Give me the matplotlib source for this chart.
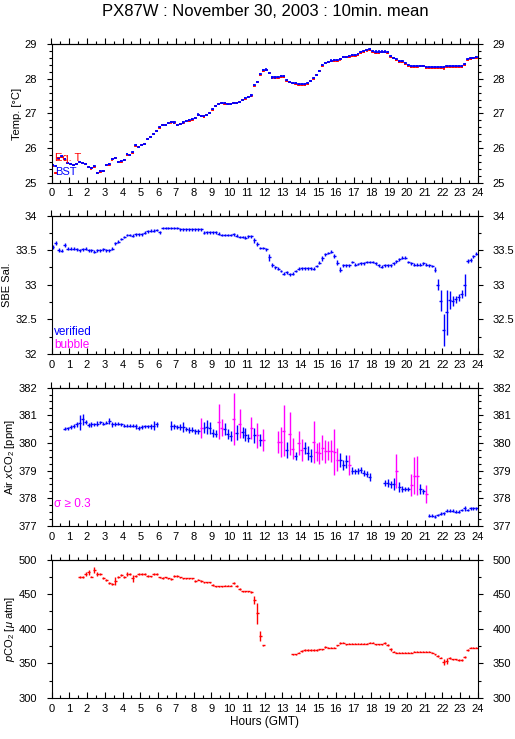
import numpy as np
import matplotlib
matplotlib.use("Agg")
import matplotlib.pyplot as plt
from matplotlib.ticker import MultipleLocator

plt.rcParams["font.family"] = ["Liberation Sans", "DejaVu Sans"]
plt.rcParams["mathtext.fontset"] = "custom"
plt.rcParams["mathtext.rm"] = "Liberation Sans"
plt.rcParams["mathtext.it"] = "Liberation Sans:italic"

nan = np.nan

# ── 10-minute means, one row per hour (6 slots each) ──────────────────────────
T_BST = [
    25.50, 25.48, 25.70, 25.76, 25.68, 25.58,
    25.55, 25.52, 25.55, 25.60, 25.57, 25.55,
    25.46, 25.42, 25.47, 25.29, 25.33, 25.35,
    25.52, 25.53, 25.68, 25.72, 25.60, 25.62,
    25.66, 25.82, 25.80, 25.88, 26.08, 26.04,
    26.10, 26.13, 26.27, 26.33, 26.42, 26.50,
    26.60, 26.67, 26.68, 26.73, 26.75, 26.74,
    26.68, 26.70, 26.74, 26.78, 26.80, 26.83,
    26.88, 26.97, 26.94, 26.92, 26.96, 27.02,
    27.12, 27.22, 27.28, 27.30, 27.29, 27.28,
    27.28, 27.30, 27.31, 27.34, 27.40, 27.44,
    27.48, 27.52, 27.82, 27.92, 28.13, 28.25,
    28.27, 28.18, 28.04, 28.04, 28.05, 28.07,
    28.07, 27.97, 27.92, 27.89, 27.87, 27.84,
    27.84, 27.84, 27.88, 27.95, 28.02, 28.12,
    28.24, 28.40, 28.47, 28.50, 28.53, 28.55,
    28.55, 28.58, 28.64, 28.64, 28.65, 28.69,
    28.69, 28.72, 28.77, 28.80, 28.84, 28.85,
    28.80, 28.79, 28.79, 28.79, 28.79, 28.77,
    28.67, 28.61, 28.57, 28.52, 28.52, 28.46,
    28.40, 28.36, 28.38, 28.38, 28.38, 28.38,
    28.35, 28.35, 28.35, 28.35, 28.34, 28.33,
    28.33, 28.37, 28.37, 28.37, 28.37, 28.37,
    28.37, 28.42, 28.57, 28.60, 28.61, 28.64,
]

T_EQ = [
    25.47, 25.27, 25.68, 25.74, 25.67, 25.56,
    25.54, 25.51, 25.54, 25.59, 25.56, 25.54,
    25.45, 25.41, 25.46, 25.28, 25.32, 25.34,
    25.51, 25.52, 25.67, 25.71, 25.59, 25.61,
    25.65, 25.81, 25.79, 25.87, 26.06, 26.03,
    26.09, 26.12, 26.26, 26.32, 26.41, 26.49,
    26.59, 26.66, 26.67, 26.72, 26.74, 26.73,
    26.67, 26.69, 26.73, 26.77, 26.79, 26.82,
    26.87, 26.96, 26.93, 26.91, 26.95, 27.01,
    27.11, 27.21, 27.27, 27.29, 27.28, 27.27,
    27.27, 27.29, 27.30, 27.33, 27.39, 27.43,
    27.47, 27.51, 27.80, 27.91, 28.12, 28.24,
    28.26, 28.17, 28.02, 28.02, 28.03, 28.05,
    28.05, 27.95, 27.90, 27.87, 27.85, 27.82,
    27.82, 27.82, 27.86, 27.93, 28.00, 28.10,
    28.22, 28.38, 28.45, 28.48, 28.51, 28.53,
    28.53, 28.56, 28.62, 28.62, 28.63, 28.67,
    28.67, 28.70, 28.75, 28.78, 28.82, 28.83,
    28.77, 28.76, 28.76, 28.77, 28.77, 28.75,
    28.64, 28.59, 28.55, 28.50, 28.49, 28.43,
    28.37, 28.33, 28.35, 28.35, 28.36, 28.36,
    28.32, 28.31, 28.31, 28.32, 28.31, 28.31,
    28.30, 28.34, 28.34, 28.34, 28.34, 28.34,
    28.34, 28.40, 28.55, 28.58, 28.59, 28.61,
]
T_ERR = 0.03

SAL = [
    33.55, 33.60, 33.50, 33.49, 33.57, 33.52,
    33.52, 33.52, 33.51, 33.50, 33.51, 33.52,
    33.50, 33.50, 33.48, 33.50, 33.50, 33.51,
    33.50, 33.50, 33.52, 33.60, 33.62, 33.66,
    33.69, 33.72, 33.72, 33.71, 33.73, 33.73,
    33.73, 33.75, 33.77, 33.78, 33.78, 33.79,
    33.76, 33.82, 33.82, 33.82, 33.82, 33.82,
    33.82, 33.80, 33.80, 33.80, 33.80, 33.80,
    33.80, 33.80, 33.80, 33.75, 33.76, 33.76,
    33.76, 33.76, 33.74, 33.72, 33.72, 33.72,
    33.72, 33.73, 33.71, 33.69, 33.69, 33.68,
    33.70, 33.70, 33.64, 33.59, 33.53, 33.53,
    33.51, 33.40, 33.28, 33.25, 33.23, 33.20,
    33.16, 33.18, 33.15, 33.16, 33.20, 33.23,
    33.24, 33.24, 33.24, 33.24, 33.23, 33.27,
    33.32, 33.38, 33.44, 33.46, 33.48, 33.41,
    33.32, 33.22, 33.28, 33.28, 33.28, 33.33,
    33.29, 33.30, 33.31, 33.31, 33.33, 33.33,
    33.33, 33.31, 33.28, 33.26, 33.28, 33.28,
    33.28, 33.31, 33.34, 33.37, 33.39, 33.39,
    33.33, 33.31, 33.29, 33.29, 33.29, 33.31,
    33.29, 33.28, 33.27, 33.22, 33.00, 32.77,
    32.35, 32.60, 32.78, 32.77, 32.79, 32.82,
    32.87, 33.00, 33.34, 33.36, 33.41, 33.45,
]

SAL_ERR = [
    0.03, 0.03, 0.03, 0.02, 0.03, 0.02,
    0.02, 0.02, 0.02, 0.02, 0.02, 0.02,
    0.02, 0.02, 0.02, 0.02, 0.02, 0.02,
    0.02, 0.02, 0.02, 0.02, 0.02, 0.02,
    0.02, 0.02, 0.02, 0.02, 0.02, 0.02,
    0.02, 0.02, 0.02, 0.02, 0.02, 0.02,
    0.02, 0.02, 0.02, 0.02, 0.02, 0.02,
    0.02, 0.02, 0.02, 0.02, 0.02, 0.02,
    0.02, 0.02, 0.02, 0.02, 0.02, 0.02,
    0.02, 0.02, 0.02, 0.02, 0.02, 0.02,
    0.02, 0.02, 0.02, 0.02, 0.02, 0.02,
    0.02, 0.02, 0.03, 0.03, 0.02, 0.02,
    0.02, 0.05, 0.03, 0.02, 0.02, 0.02,
    0.02, 0.02, 0.02, 0.02, 0.02, 0.02,
    0.02, 0.02, 0.02, 0.02, 0.02, 0.02,
    0.02, 0.03, 0.02, 0.02, 0.02, 0.03,
    0.04, 0.03, 0.02, 0.02, 0.02, 0.02,
    0.02, 0.02, 0.02, 0.02, 0.02, 0.02,
    0.02, 0.02, 0.02, 0.02, 0.02, 0.02,
    0.02, 0.02, 0.02, 0.02, 0.02, 0.02,
    0.02, 0.02, 0.02, 0.02, 0.02, 0.02,
    0.02, 0.02, 0.02, 0.03, 0.08, 0.15,
    0.23, 0.32, 0.13, 0.07, 0.05, 0.05,
    0.06, 0.16, 0.03, 0.03, 0.02, 0.02,
]

XCO2 = [
    nan, nan, nan, nan, 380.51, 380.53,
    380.58, 380.62, 380.67, 380.73, 380.85, 380.75,
    380.65, 380.67, 380.67, 380.70, 380.75, 380.70,
    380.73, 380.79, 380.67, 380.68, 380.70, 380.67,
    380.63, 380.63, 380.63, 380.63, 380.60, 380.55,
    380.58, 380.60, 380.60, 380.60, 380.63, 380.67,
    nan, nan, nan, nan, 380.63, 380.60,
    380.58, 380.58, 380.58, 380.50, 380.46, 380.48,
    380.42, 380.42, 380.55, 380.55, 380.58, 380.55,
    380.36, 380.34, 380.77, 380.55, 380.51, 380.31,
    380.24, 380.85, 380.37, 380.70, 380.39, 380.30,
    380.18, 380.55, 380.27, 380.27, 380.10, 380.10,
    nan, nan, nan, nan, 380.03, 380.03,
    380.45, 379.76, 380.34, 379.80, 379.52, 380.00,
    379.74, 379.82, 379.64, 379.54, 380.04, 379.67,
    379.64, 379.82, 379.70, 379.72, 379.70, 379.68,
    379.40, 379.38, 379.22, 379.34, 379.22, 379.00,
    378.97, 378.99, 379.03, 378.92, 378.87, 378.77,
    nan, nan, nan, nan, 378.55, 378.55,
    378.51, 378.52, 379.00, 378.40, 378.33, 378.33,
    378.33, 378.49, 378.82, 378.82, 378.34, 378.25,
    378.16, 377.38, 377.38, 377.34, 377.40, 377.44,
    377.46, 377.56, 377.56, 377.56, 377.52, 377.52,
    377.58, 377.64, 377.58, 377.64, 377.64, 377.64,
]

XCO2_ERR = [
    nan, nan, nan, nan, 0.05, 0.06,
    0.06, 0.08, 0.10, 0.27, 0.21, 0.08,
    0.08, 0.08, 0.06, 0.08, 0.06, 0.06,
    0.06, 0.12, 0.08, 0.06, 0.06, 0.06,
    0.06, 0.06, 0.05, 0.06, 0.08, 0.08,
    0.06, 0.06, 0.06, 0.08, 0.15, 0.10,
    nan, nan, nan, nan, 0.15, 0.08,
    0.08, 0.10, 0.18, 0.08, 0.10, 0.10,
    0.08, 0.10, 0.37, 0.20, 0.24, 0.22,
    0.16, 0.12, 0.64, 0.30, 0.21, 0.18,
    0.18, 0.94, 0.28, 0.52, 0.20, 0.24,
    0.15, 0.40, 0.27, 0.45, 0.21, 0.40,
    nan, nan, nan, nan, 0.40, 0.55,
    0.91, 0.29, 0.79, 0.39, 0.15, 0.42,
    0.39, 0.21, 0.24, 0.24, 0.76, 0.33,
    0.40, 0.45, 0.42, 0.35, 0.39, 0.82,
    0.42, 0.25, 0.18, 0.24, 0.36, 0.12,
    0.10, 0.10, 0.12, 0.10, 0.10, 0.15,
    nan, nan, nan, nan, 0.12, 0.15,
    0.12, 0.21, 0.61, 0.18, 0.10, 0.08,
    0.08, 0.39, 0.67, 0.70, 0.18, 0.10,
    0.33, 0.05, 0.05, 0.05, 0.05, 0.05,
    0.05, 0.05, 0.05, 0.06, 0.05, 0.05,
    0.05, 0.08, 0.05, 0.05, 0.05, 0.05,
]

PCO2 = [
    nan, nan, nan, nan, nan, nan,
    nan, nan, nan, 474.3, 475.3, 479.0,
    481.6, 475.3, 485.0, 479.0, 479.0, 472.9,
    471.0, 465.6, 464.6, 469.5, 475.3, 477.7,
    474.3, 479.0, 479.0, 472.9, 476.8, 479.0,
    479.0, 479.0, 475.8, 475.8, 479.0, 479.0,
    474.3, 472.9, 474.3, 472.9, 471.9, 475.8,
    475.8, 474.3, 472.9, 472.9, 472.9, 472.9,
    469.5, 471.0, 468.5, 467.1, 467.1, 467.1,
    463.2, 461.3, 461.3, 461.3, 462.2, 462.2,
    462.2, 466.1, 461.3, 457.4, 454.0, 454.0,
    454.0, 452.5, 441.9, 422.5, 389.6, 376.0,
    nan, nan, nan, nan, nan, nan,
    nan, nan, nan, 363.0, 363.0, 365.4,
    367.8, 369.3, 369.3, 369.3, 369.3, 369.3,
    370.3, 370.3, 373.6, 372.6, 372.6, 372.6,
    376.0, 379.0, 380.0, 377.5, 378.5, 378.5,
    378.5, 378.5, 378.5, 378.5, 378.5, 380.0,
    380.0, 377.5, 377.5, 377.5, 379.0, 376.5,
    370.3, 366.8, 365.4, 365.4, 365.4, 365.4,
    365.4, 365.4, 366.8, 366.8, 366.8, 366.8,
    366.8, 366.8, 365.4, 363.0, 360.5, 358.1,
    351.8, 353.3, 358.1, 355.7, 355.7, 354.7,
    354.7, 359.6, 368.8, 372.6, 372.6, 372.6,
]

PCO2_ERR = [
    nan, nan, nan, nan, nan, nan,
    nan, nan, nan, 1.5, 1.5, 2.5,
    4.0, 1.0, 4.0, 2.5, 1.5, 1.5,
    1.5, 1.5, 2.0, 6.0, 1.5, 1.5,
    1.5, 2.5, 1.5, 5.0, 1.5, 1.5,
    1.5, 1.5, 1.5, 1.0, 1.5, 1.0,
    1.0, 1.5, 1.0, 1.0, 1.5, 1.5,
    1.5, 1.0, 1.0, 1.0, 1.0, 1.0,
    1.5, 1.0, 1.5, 1.0, 1.0, 1.0,
    1.5, 1.0, 1.0, 1.0, 1.0, 1.0,
    1.0, 1.5, 1.5, 1.0, 1.0, 1.0,
    1.0, 1.5, 6.0, 15.0, 7.0, 1.0,
    nan, nan, nan, nan, nan, nan,
    nan, nan, nan, 1.0, 1.0, 1.0,
    1.0, 1.0, 1.0, 1.0, 1.0, 1.0,
    1.0, 1.0, 1.0, 1.0, 1.0, 1.0,
    1.0, 1.5, 1.0, 1.0, 1.0, 1.0,
    1.0, 1.0, 1.0, 1.0, 1.0, 1.0,
    1.0, 1.0, 1.0, 1.0, 1.5, 1.0,
    2.0, 1.0, 1.0, 1.0, 1.0, 1.0,
    1.0, 1.0, 1.0, 1.0, 1.0, 1.0,
    1.0, 1.0, 1.0, 1.0, 1.0, 1.0,
    4.0, 4.0, 1.5, 1.0, 1.0, 1.0,
    1.0, 1.5, 1.5, 1.0, 1.0, 1.0,
]

SIGMA_LIMIT = 0.3
HALF_SLOT = 1 / 12                       # 10-min bars
hours = (np.arange(144) + 0.5) / 6       # slot centres

BLUE, RED, MAGENTA = "#0000ff", "#ff0000", "#ff00ff"

# ── Figure & panel positions (fractions of a 515x739 canvas) ─────────────────
fig = plt.figure(figsize=(5.15, 7.39), dpi=100, facecolor="white")
L, W, H = 0.100, 0.828, 0.1873
bottoms = [0.7528, 0.5210, 0.2882, 0.0555]
axes = [fig.add_axes([L, b, W, H]) for b in bottoms]

fig.text(0.515, 0.994, "PX87W : November 30, 2003 : 10min. mean",
         ha="center", va="top", fontsize=12)


def style_axis(ax, ylim, major, minor):
    ax.set_xlim(0, 24)
    ax.set_ylim(*ylim)
    ax.xaxis.set_major_locator(MultipleLocator(1))
    ax.xaxis.set_minor_locator(MultipleLocator(0.5))
    ax.yaxis.set_major_locator(MultipleLocator(major))
    ax.yaxis.set_minor_locator(MultipleLocator(minor))
    ax.tick_params(axis="x", which="both", direction="in", top=False,
                   labelsize=8, pad=4, width=0.8)
    ax.tick_params(axis="x", which="major", length=4)
    ax.tick_params(axis="x", which="minor", length=2)
    ax.tick_params(axis="y", which="both", direction="out", left=True,
                   right=True, labelleft=True, labelright=True,
                   labelsize=8, pad=7, width=0.8)
    ax.tick_params(axis="y", which="major", length=3.5)
    ax.tick_params(axis="y", which="minor", length=2.5)
    ax.yaxis.set_major_formatter(plt.FuncFormatter(lambda v, p: "%g" % v))
    for s in ax.spines.values():
        s.set_linewidth(0.8)
    top = ax.secondary_xaxis("top")
    top.xaxis.set_major_locator(MultipleLocator(1))
    top.xaxis.set_minor_locator(MultipleLocator(0.5))
    top.tick_params(axis="x", which="both", direction="out", labeltop=False,
                    width=0.8)
    top.tick_params(axis="x", which="major", length=4)
    top.tick_params(axis="x", which="minor", length=2)
    top.spines["top"].set_linewidth(0.8)


def bars(ax, x, y, yerr, color, lw=1.0):
    x = np.asarray(x)
    y = np.asarray(y, dtype=float)
    yerr = np.broadcast_to(np.asarray(yerr, dtype=float), y.shape)
    ok = np.isfinite(y)
    ax.errorbar(x[ok], y[ok], xerr=HALF_SLOT, yerr=yerr[ok], fmt="none",
                ecolor=color, elinewidth=lw, capsize=0)


# ── Panel 1: temperatures ─────────────────────────────────────────────────────
ax = axes[0]
style_axis(ax, (25, 29), 1, 0.2)
bars(ax, hours, T_EQ, T_ERR, RED, 1.2)
bars(ax, hours, T_BST, T_ERR, BLUE, 1.2)
ax.set_ylabel("Temp. [°C]", fontsize=8)
ax.yaxis.set_label_coords(-0.069, 0.5)
ax.text(0.008, 0.178, "Eq. T", color=RED, fontsize=8, va="center",
        transform=ax.transAxes)
ax.text(0.008, 0.077, "BST", color=BLUE, fontsize=8, va="center",
        transform=ax.transAxes)

# ── Panel 2: salinity ─────────────────────────────────────────────────────────
ax = axes[1]
style_axis(ax, (32, 34), 0.5, 0.25)
bars(ax, hours, SAL, SAL_ERR, BLUE)
ax.set_ylabel("SBE Sal.", fontsize=8)
ax.yaxis.set_label_coords(-0.092, 0.5)
ax.text(0.006, 0.16, "verified", color=BLUE, fontsize=8.5, va="center",
        transform=ax.transAxes)
ax.text(0.006, 0.065, "bubble", color=MAGENTA, fontsize=8.5, va="center",
        transform=ax.transAxes)

# ── Panel 3: atmospheric xCO2 ─────────────────────────────────────────────────
ax = axes[2]
style_axis(ax, (377, 382), 1, 0.25)
xco2 = np.array(XCO2)
xerr_ = np.array(XCO2_ERR)
noisy = np.nan_to_num(xerr_) >= SIGMA_LIMIT
bars(ax, hours[~noisy], xco2[~noisy], xerr_[~noisy], BLUE)
bars(ax, hours[noisy], xco2[noisy], xerr_[noisy], MAGENTA)
ax.set_ylabel(r"Air $x$CO$_2$ [ppm]", fontsize=8)
ax.yaxis.set_label_coords(-0.080, 0.5)
ax.text(0.006, 0.16, "σ ≥ 0.3", color=MAGENTA, fontsize=8.5, va="center",
        transform=ax.transAxes)

# ── Panel 4: seawater pCO2 ────────────────────────────────────────────────────
ax = axes[3]
style_axis(ax, (300, 500), 50, 25)
bars(ax, hours, PCO2, PCO2_ERR, RED)
ax.set_ylabel(r"$p$CO$_2$ [$\mu$ atm]", fontsize=8)
ax.yaxis.set_label_coords(-0.080, 0.5)
ax.set_xlabel("Hours (GMT)", fontsize=8.5, labelpad=2)

fig.savefig("out.png", dpi=100, facecolor="white")
